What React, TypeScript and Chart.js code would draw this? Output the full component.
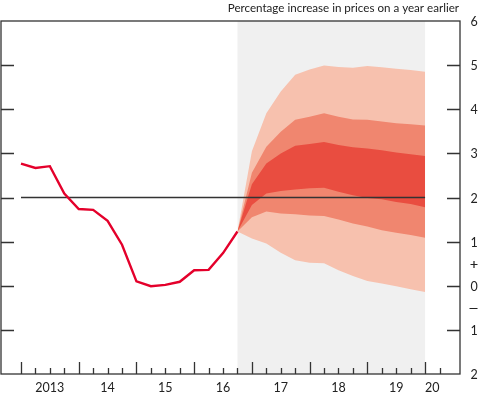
import React, { useEffect, useRef } from "react";
import { Chart, registerables } from "chart.js";

Chart.register(...registerables);

// ---- data (quarter index 0 = first observation, projection from quarter 15) ----
const cpiHistory = [2.77, 2.67, 2.71, 2.09, 1.74, 1.72, 1.47, 0.93, 0.1, -0.01, 0.02, 0.09, 0.35, 0.36, 0.74, 1.23];
const fanStartQuarter = 15;
const fanOuterTop = [1.23, 3.05, 3.91, 4.4, 4.78, 4.9, 4.99, 4.96, 4.94, 4.98, 4.95, 4.92, 4.89, 4.85];
const fanMidTop = [1.23, 2.56, 3.15, 3.49, 3.76, 3.83, 3.91, 3.83, 3.77, 3.76, 3.72, 3.68, 3.66, 3.63];
const fanInnerTop = [1.23, 2.3, 2.77, 3.0, 3.17, 3.21, 3.26, 3.19, 3.14, 3.11, 3.07, 3.02, 2.98, 2.94];
const fanInnerBottom = [1.23, 1.83, 2.09, 2.15, 2.18, 2.21, 2.22, 2.13, 2.05, 1.99, 1.96, 1.9, 1.85, 1.78];
const fanMidBottom = [1.23, 1.55, 1.68, 1.64, 1.62, 1.59, 1.58, 1.5, 1.41, 1.34, 1.26, 1.2, 1.15, 1.09];
const fanOuterBottom = [1.23, 1.07, 0.96, 0.75, 0.58, 0.52, 0.51, 0.35, 0.22, 0.11, 0.05, -0.01, -0.08, -0.14];
const inflationTarget = 2;
const yearLabels = ["2013", "14", "15", "16", "17", "18", "19", "20"];
const rightTickValues = [6, 5, 4, 3, 2, 1, 0, -1, -2];
const titleText = "Percentage increase in prices on a year earlier";

const FONT = "Lato, 'Open Sans', sans-serif";

const toPoints = (arr: number[], start: number) => arr.map((y, i) => ({ x: start + i, y }));

export default function App() {
  const ref = useRef<HTMLCanvasElement | null>(null);

  useEffect(() => {
    const canvas = ref.current;
    if (!canvas) return;
    const fanEnd = fanStartQuarter + fanOuterTop.length - 1;

    const decor = {
      id: "decor",
      beforeDatasetsDraw(chart: any) {
        const { ctx, chartArea, scales } = chart;
        const x0 = scales.x.getPixelForValue(fanStartQuarter);
        const x1 = scales.x.getPixelForValue(fanEnd);
        ctx.save();
        ctx.fillStyle = "#f0f0f0";
        ctx.fillRect(x0, chartArea.top, x1 - x0, chartArea.bottom - chartArea.top);
        ctx.restore();
      },
      afterDatasetsDraw(chart: any) {
        const { ctx, chartArea, scales } = chart;
        const { left, right, top, bottom } = chartArea;
        ctx.save();
        ctx.strokeStyle = "#333";
        ctx.lineWidth = 1.3;
        ctx.strokeRect(left, top, right - left, bottom - top);
        // y ticks
        ctx.beginPath();
        for (let v = -1; v <= 5; v++) {
          const y = Math.round(scales.y.getPixelForValue(v)) + 0.5;
          ctx.moveTo(left, y);
          ctx.lineTo(left + 13, y);
          ctx.moveTo(right, y);
          ctx.lineTo(right - 13, y);
        }
        // x ticks (quarterly)
        for (let q = 0; q <= 29; q++) {
          const x = Math.round(scales.x.getPixelForValue(q)) + 0.5;
          const len = q % 4 === 0 ? 12 : 6;
          ctx.moveTo(x, bottom);
          ctx.lineTo(x, bottom - len);
        }
        ctx.stroke();

        const lx = right + 14;
        // plus / minus signs between 1 and 0, 0 and -1
        ctx.strokeStyle = "#222";
        ctx.lineWidth = 1.2;
        ctx.beginPath();
        const yp = Math.round(scales.y.getPixelForValue(0.5)) + 0.5;
        ctx.moveTo(lx - 3.5, yp);
        ctx.lineTo(lx + 3.5, yp);
        ctx.moveTo(lx, yp - 3.5);
        ctx.lineTo(lx, yp + 3.5);
        const ym = Math.round(scales.y.getPixelForValue(-0.5)) + 0.5;
        ctx.moveTo(lx - 4.5, ym);
        ctx.lineTo(lx + 3.5, ym);
        ctx.stroke();

        ctx.fillStyle = "#222";
        ctx.font = `12.5px ${FONT}`;
        // right labels
        ctx.textAlign = "center";
        ctx.textBaseline = "middle";
        rightTickValues.forEach((v) => {
          ctx.fillText(String(Math.abs(v)), lx, scales.y.getPixelForValue(v) + 1);
        });
        // year labels
        yearLabels.forEach((lab, i) => {
          const q = Math.min(2 + 4 * i, 28.5);
          ctx.fillText(lab, scales.x.getPixelForValue(q), bottom + 14);
        });
        // title
        ctx.font = `11.6px ${FONT}`;
        ctx.textAlign = "right";
        ctx.textBaseline = "alphabetic";
        ctx.fillText(titleText, right - 1, 12);
        ctx.restore();
      },
    };

    const band = (data: number[], color: string, fill: any, order: number) => ({
      data: toPoints(data, fanStartQuarter),
      borderWidth: 0,
      borderColor: color,
      backgroundColor: color,
      pointRadius: 0,
      fill,
      order,
      tension: 0,
    });

    const chart = new Chart(canvas, {
      type: "line",
      data: {
        datasets: [
          band(fanOuterTop, "#f7c1ae", "+1", 5),
          band(fanOuterBottom, "#f7c1ae", false, 5),
          band(fanMidTop, "#f0866f", "+1", 4),
          band(fanMidBottom, "#f0866f", false, 4),
          band(fanInnerTop, "#e94d40", "+1", 3),
          band(fanInnerBottom, "#e94d40", false, 3),
          {
            data: [
              { x: 0, y: inflationTarget },
              { x: fanEnd, y: inflationTarget },
            ],
            borderColor: "#333",
            borderWidth: 1.4,
            pointRadius: 0,
            fill: false,
            order: 2,
          },
          {
            data: toPoints(cpiHistory, 0),
            borderColor: "#e4002b",
            borderWidth: 2.4,
            pointRadius: 0,
            fill: false,
            order: 1,
            tension: 0,
          },
        ],
      } as any,
      options: {
        animation: false,
        responsive: false,
        devicePixelRatio: 1,
        layout: { padding: { left: 1, right: 19, top: 21, bottom: 22 } },
        plugins: { legend: { display: false }, tooltip: { enabled: false }, title: { display: false } },
        scales: {
          x: { type: "linear", min: -1.386, max: 30.42, display: false },
          y: { type: "linear", min: -2, max: 6, display: false },
        },
      } as any,
      plugins: [decor],
    });
    return () => chart.destroy();
  }, []);

  return (
    <div style={{ position: "absolute", left: 0, top: 0, width: 479, height: 396, background: "#fff" }}>
      <canvas ref={ref} width={479} height={396} style={{ width: 479, height: 396, display: "block" }} />
    </div>
  );
}
